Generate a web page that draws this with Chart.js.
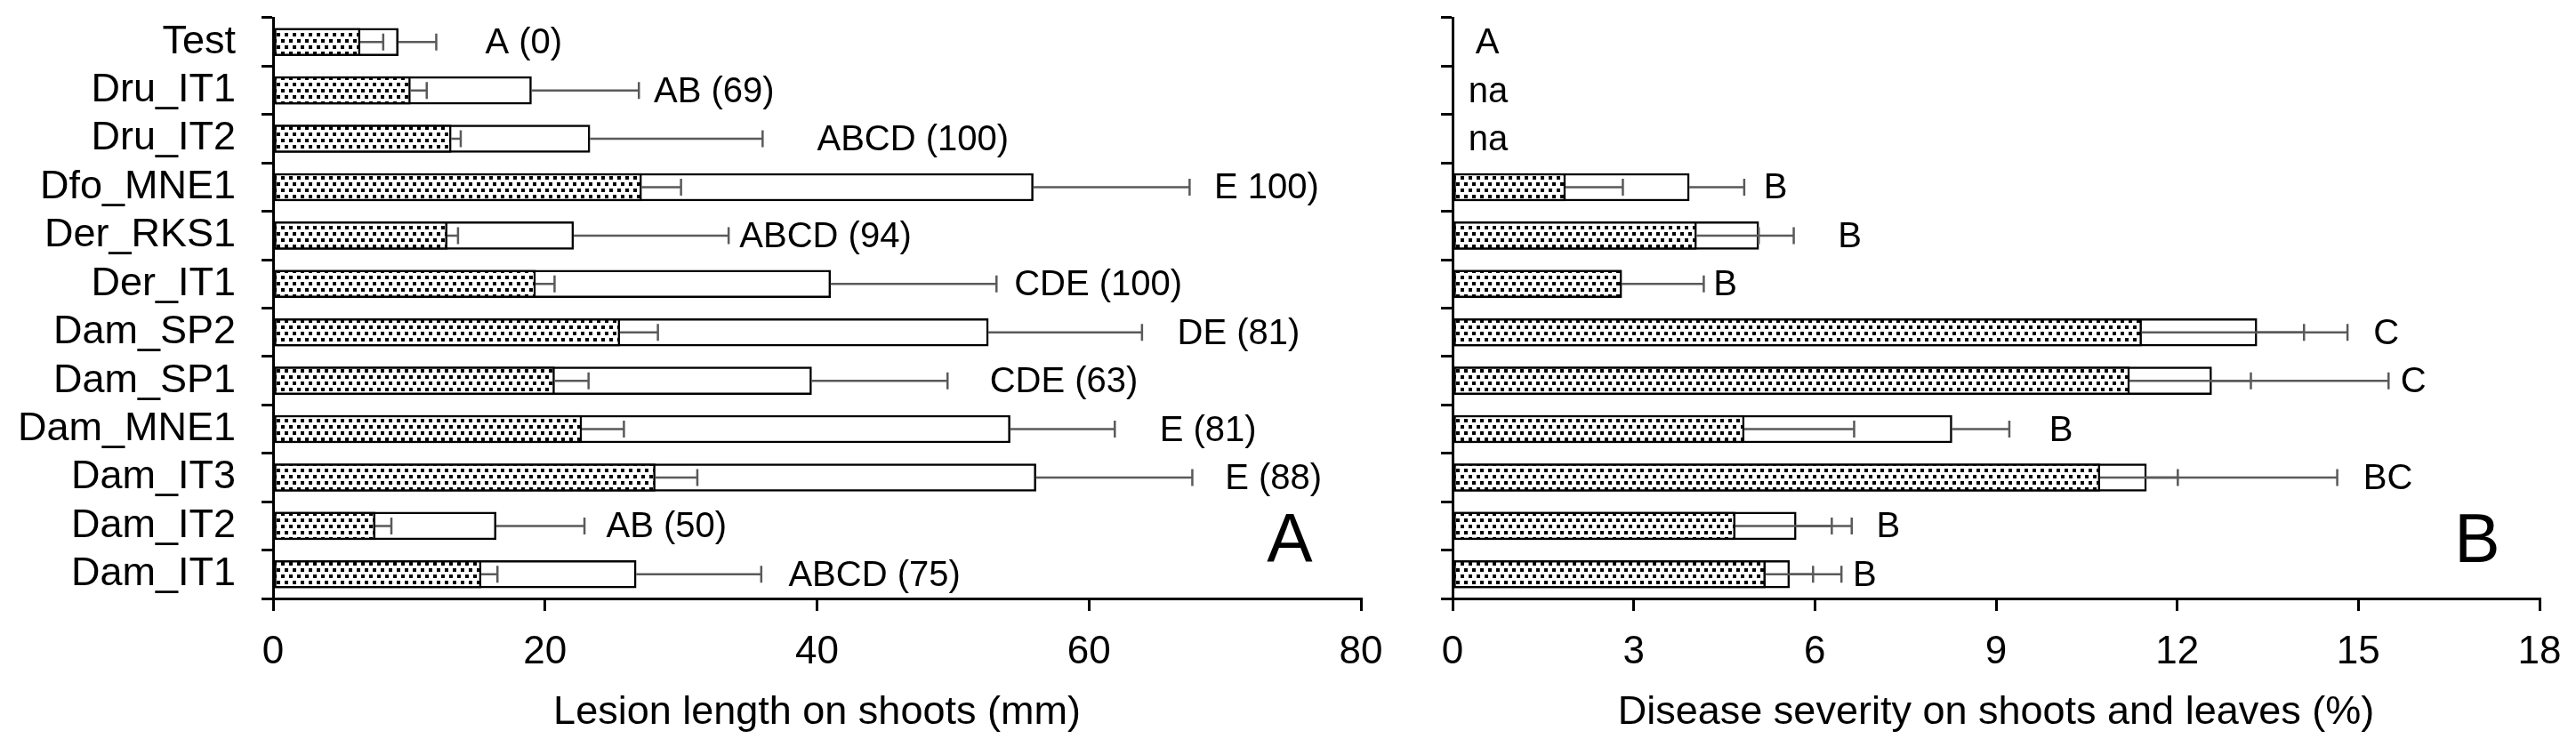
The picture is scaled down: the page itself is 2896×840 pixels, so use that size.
<!DOCTYPE html>
<html>
<head>
<meta charset="utf-8">
<script src="https://cdn.jsdelivr.net/npm/chart.js@4.4.1/dist/chart.umd.min.js"></script>
<style>
  html, body { margin: 0; padding: 0; background: #ffffff; }
  #wrap { position: relative; width: 2896px; height: 840px; overflow: hidden; }
  canvas { position: absolute; top: 0; }
  #chartA { left: 0; }
  #chartB { left: 1560px; }
</style>
</head>
<body>
<div id="wrap">
  <canvas id="chartA" width="1560" height="840"></canvas>
  <canvas id="chartB" width="1336" height="840"></canvas>
</div>
<script>
// ─── Data ─────────────────────────────────────────────────────────────────────
const categories = ['Test', 'Dru_IT1', 'Dru_IT2', 'Dfo_MNE1', 'Der_RKS1', 'Der_IT1',
                    'Dam_SP2', 'Dam_SP1', 'Dam_MNE1', 'Dam_IT3', 'Dam_IT2', 'Dam_IT1'];

// panel A: lesion length on shoots (mm)
const lesionDotted   = [6.4, 10.1, 13.1, 27.1, 12.8, 19.3, 25.5, 20.7, 22.7, 28.1, 7.5, 15.3];
const lesionDottedSe = [8.1, 11.3, 13.8, 30.0, 13.6, 20.7, 28.3, 23.2, 25.8, 31.2, 8.7, 16.5];
const lesionTotal    = [9.2, 19.0, 23.3, 55.9, 22.1, 41.0, 52.6, 39.6, 54.2, 56.1, 16.4, 26.7];
const lesionTotalSe  = [12.0, 26.9, 36.0, 67.4, 33.5, 53.2, 63.9, 49.6, 61.9, 67.6, 22.9, 35.9];
const lesionLetters  = ['A (0)', 'AB (69)', 'ABCD (100)', 'E 100)', 'ABCD (94)', 'CDE (100)',
                        'DE (81)', 'CDE (63)', 'E (81)', 'E (88)', 'AB (50)', 'ABCD (75)'];
const lesionLetterAt = [15.6, 28.0, 40.0, 69.2, 34.3, 54.5, 66.5, 52.7, 65.2, 70.0, 24.5, 37.9];
const lesionTicks    = [0, 20, 40, 60, 80];

// panel B: disease severity on shoots and leaves (%)
const sevDotted   = [null, null, null, 1.87, 4.04, 2.80, 11.41, 11.21, 4.83, 10.72, 4.68, 5.18];
const sevDottedSe = [null, null, null, 2.82, 5.07, null, 14.10, 13.22, 6.65, 12.01, 6.28, 5.97];
const sevTotal    = [null, null, null, 3.92, 5.07, 2.80, 13.32, 12.57, 8.27, 11.49, 5.69, 5.58];
const sevTotalSe  = [null, null, null, 4.83, 5.65, 4.16, 14.82, 15.50, 9.22, 14.65, 6.61, 6.44];
const sevLetters  = ['A', 'na', 'na', 'B', 'B', 'B', 'C', 'C', 'B', 'BC', 'B', 'B'];
const sevLetterAt = [0.38, 0.26, 0.26, 5.15, 6.38, 4.32, 15.25, 15.7, 9.88, 15.08, 7.02, 6.63];
const sevTicks    = [0, 3, 6, 9, 12, 15, 18];

// ─── Shared styling ───────────────────────────────────────────────────────────
const FONT = "'Liberation Sans', Arial, Helvetica, sans-serif";
const INK  = '#000000';
const ERR  = '#5a5a5a';

// small black dots on white, staggered rows
const makeDots = () => {
    const c = document.createElement('canvas');
    c.width = 9; c.height = 14;
    const g = c.getContext('2d');
    g.fillStyle = '#ffffff';
    g.fillRect(0, 0, 9, 14);
    g.fillStyle = '#000000';
    g.fillRect(1, 2, 4, 4);
    g.fillRect(5, 9, 4, 4);
    return document.getElementById('chartA').getContext('2d').createPattern(c, 'repeat');
};
const dots = makeDots();

// error bars, significance letters and panel tag
const overlayPlugin = {
    id: 'overlay',
    afterDatasetsDraw(chart, args, opts) {
        const { ctx, chartArea } = chart;
        const xs = chart.scales.x;
        const ys = chart.scales.y;
        ctx.save();
        ctx.strokeStyle = ERR;
        ctx.lineWidth = 2.5;
        const bar = (from, to, y) => {
            if (from == null || to == null) return;
            const x0 = xs.getPixelForValue(from);
            const x1 = xs.getPixelForValue(to);
            ctx.beginPath();
            ctx.moveTo(x0, y); ctx.lineTo(x1, y);
            ctx.moveTo(x1, y - 9.5); ctx.lineTo(x1, y + 9.5);
            ctx.stroke();
        };
        categories.forEach((c, i) => {
            const y = ys.getPixelForValue(i);
            bar(opts.dotted[i], opts.dottedSe[i], y);
            bar(opts.total[i], opts.totalSe[i], y);
        });

        ctx.fillStyle = INK;
        ctx.font = `40px ${FONT}`;
        ctx.textAlign = 'left';
        ctx.textBaseline = 'middle';
        categories.forEach((c, i) => {
            ctx.fillText(opts.letters[i], xs.getPixelForValue(opts.letterAt[i]), ys.getPixelForValue(i) + 2);
        });

        ctx.font = `77px ${FONT}`;
        ctx.textAlign = 'center';
        ctx.textBaseline = 'alphabetic';
        ctx.fillText(opts.tag, chartArea.right - opts.tagRight, chartArea.bottom - 41);
        ctx.restore();
    }
};

const buildChart = (id, cfg) => new Chart(document.getElementById(id), {
    type: 'bar',
    data: {
        labels: categories,
        datasets: [
            { data: cfg.dotted, backgroundColor: dots, borderColor: INK, borderWidth: 2.5,
              borderSkipped: false, grouped: false, barThickness: 31, order: 1 },
            { data: cfg.total, backgroundColor: '#ffffff', borderColor: INK, borderWidth: 2.5,
              borderSkipped: false, grouped: false, barThickness: 31, order: 2 }
        ]
    },
    options: {
        indexAxis: 'y',
        responsive: false,
        animation: false,
        events: [],
        layout: { padding: { top: 20, right: cfg.padRight, left: 0, bottom: 0 } },
        plugins: {
            legend: { display: false },
            tooltip: { enabled: false },
            overlay: cfg
        },
        scales: {
            x: {
                type: 'linear',
                min: cfg.ticks[0],
                max: cfg.ticks[cfg.ticks.length - 1],
                afterBuildTicks: (s) => { s.ticks = cfg.ticks.map(v => ({ value: v })); },
                ticks: { color: INK, font: { family: FONT, size: 44 }, padding: 20, maxRotation: 0, autoSkip: false },
                grid: { drawOnChartArea: false, tickLength: 14, color: INK, lineWidth: 3 },
                border: { color: INK, width: 3 },
                title: { display: true, text: cfg.title, color: INK,
                         font: { family: FONT, size: 45 }, padding: { top: 0, bottom: 11 } },
                afterFit: (s) => { s.height = 167; s.paddingLeft = 0; s.paddingRight = 0; }
            },
            y: {
                ticks: { display: cfg.showLabels, color: INK, font: { family: FONT, size: 45 },
                         padding: 29, autoSkip: false },
                grid: { offset: true, drawOnChartArea: false, tickLength: 13, color: INK, lineWidth: 3 },
                border: { color: INK, width: 3 },
                afterFit: (s) => { s.width = cfg.axisLeft; s.paddingTop = 0; s.paddingBottom = 0; }
            }
        }
    },
    plugins: [overlayPlugin]
});

buildChart('chartA', {
    dotted: lesionDotted, dottedSe: lesionDottedSe,
    total: lesionTotal, totalSe: lesionTotalSe,
    letters: lesionLetters, letterAt: lesionLetterAt,
    ticks: lesionTicks, title: 'Lesion length on shoots (mm)',
    tag: 'A', tagRight: 80, showLabels: true, axisLeft: 307, padRight: 30
});

buildChart('chartB', {
    dotted: sevDotted, dottedSe: sevDottedSe,
    total: sevTotal, totalSe: sevTotalSe,
    letters: sevLetters, letterAt: sevLetterAt,
    ticks: sevTicks, title: 'Disease severity on shoots and leaves (%)',
    tag: 'B', tagRight: 70, showLabels: false, axisLeft: 73, padRight: 41
});
</script>
</body>
</html>
